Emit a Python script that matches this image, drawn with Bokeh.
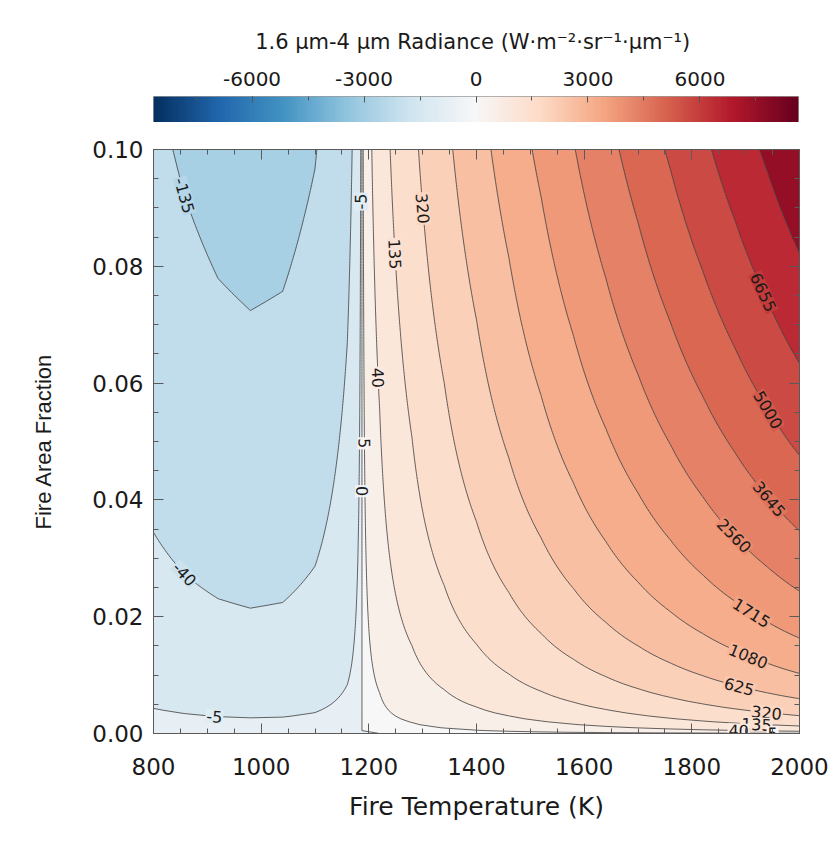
import numpy as np
from bokeh.plotting import figure
from bokeh.layouts import column
from bokeh.models import (ColumnDataSource, LinearAxis, SingleIntervalTicker,
                          NumeralTickFormatter, Range1d, LinearColorMapper)
from bokeh.core.properties import value
from bokeh.embed import file_html
from bokeh.resources import INLINE

# Fire temperature nodes (K)
fire_temperature = [800, 860, 920, 980, 1040, 1100, 1160, 1220, 1280, 1340, 1400,
                    1460, 1520, 1580, 1640, 1700, 1760, 1820, 1880, 1940, 2000]
# 1.6 um minus 4 um radiance of a pixel fully covered by fire (W m-2 sr-1 um-1)
radiance_diff_full = [-1162, -1476, -1733, -1864, -1783, -1396, -598, 718, 2658,
                      5327, 8824, 13241, 18663, 25161, 32803, 41640, 51718, 63070,
                      75730, 89709, 105018]
# Fire area fraction range
fraction_range = [0.0, 0.1]
# Contour levels
contour_levels = [-8640, -6655, -5000, -3645, -2560, -1715, -1080, -625, -320, -135,
                  -40, -5, 0, 5, 40, 135, 320, 625, 1080, 1715, 2560, 3645, 5000,
                  6655, 8640]
colorbar_range = [-8640, 8640]
colorbar_ticks = [-6000, -3000, 0, 3000, 6000]
x_ticks = [800, 1000, 1200, 1400, 1600, 1800, 2000]
y_ticks = [0.00, 0.02, 0.04, 0.06, 0.08, 0.10]

# Position in the RdBu colour ramp used for the band above each contour level
band_tone = [0.000, 0.042, 0.083, 0.125, 0.167, 0.208, 0.250, 0.292, 0.333, 0.375,
             0.417, 0.458, 0.500, 0.530, 0.560, 0.590, 0.620, 0.652, 0.685, 0.718,
             0.752, 0.790, 0.830, 0.875, 0.940]

FONT_H = "DejaVu Sans"        # horizontal texts
FONT_V = "Liberation Sans"    # vertical axis title
AXIS_COLOR = "#5a5a5a"
TEXT_COLOR = "#1a1a1a"
FRAME_W, FRAME_H = 646, 584

# RdBu (reversed: blue = negative, red = positive)
RDBU = ["#053061", "#2166ac", "#4393c3", "#92c5de", "#d1e5f0", "#f7f7f7",
        "#fddbc7", "#f4a582", "#d6604d", "#b2182b", "#67001f"]


def hex_to_rgb(h):
    return np.array([int(h[i:i + 2], 16) for i in (1, 3, 5)], float)


RDBU_RGB = np.array([hex_to_rgb(c) for c in RDBU])


def ramp_rgb(t):
    t = float(np.clip(t, 0, 1)) * (len(RDBU) - 1)
    i = min(int(np.floor(t)), len(RDBU) - 2)
    w = t - i
    return RDBU_RGB[i] * (1 - w) + RDBU_RGB[i + 1] * w


def to_hex(rgb):
    return "#%02x%02x%02x" % tuple(int(round(v)) for v in rgb)


def cmap(t):
    return to_hex(ramp_rgb(t))


# ---- field: radiance difference = fire fraction x full-pixel difference
T = np.array(fire_temperature, float)
G = np.array(radiance_diff_full, float)
frac = np.linspace(fraction_range[0], fraction_range[1], 201)
Z = np.outer(frac, G)

fill_levels = contour_levels + [1.0e6]           # close the band above the top level
fill_colors = [cmap(t) for t in band_tone]

# ---- main contour plot
p = figure(frame_width=FRAME_W, frame_height=FRAME_H,
           x_range=Range1d(800, 2000), y_range=Range1d(0, 0.1),
           toolbar_location=None, output_backend="svg",
           min_border_left=152, min_border_right=42,
           min_border_top=27, min_border_bottom=96)
p.grid.visible = False
p.outline_line_color = AXIS_COLOR
p.background_fill_color = "white"

p.contour(x=T, y=frac, z=Z, levels=fill_levels, fill_color=fill_colors,
          line_color="#303030", line_width=1.0, line_alpha=0.75)


def style_axis(ax, show_labels=True):
    ax.axis_line_color = AXIS_COLOR
    ax.major_tick_line_color = AXIS_COLOR
    ax.minor_tick_line_color = AXIS_COLOR
    ax.major_tick_in, ax.major_tick_out = 10, 0
    ax.minor_tick_in, ax.minor_tick_out = 5, 0
    ax.major_label_text_font = FONT_H
    ax.major_label_text_color = TEXT_COLOR
    ax.axis_label_text_font = FONT_H
    ax.axis_label_text_font_style = "normal"
    ax.axis_label_text_color = TEXT_COLOR
    if not show_labels:
        ax.major_label_text_font_size = "1px"
        ax.major_label_text_color = None
        ax.major_label_standoff = 0


xa = p.xaxis[0]
xa.ticker = SingleIntervalTicker(interval=200, num_minor_ticks=4)
style_axis(xa)
xa.major_label_text_font_size = "23px"
xa.major_label_standoff = 24
xa.axis_label = "Fire Temperature (K)"
xa.axis_label_text_font_size = "25px"
xa.axis_label_standoff = 14

ya = p.yaxis[0]
ya.ticker = SingleIntervalTicker(interval=0.02, num_minor_ticks=4)
ya.formatter = NumeralTickFormatter(format="0.00")
style_axis(ya)
ya.major_label_text_font_size = "23px"
ya.major_label_standoff = 10
ya.axis_label = "Fire Area Fraction"
ya.axis_label_text_font = FONT_V
ya.axis_label_text_font_size = "22px"
ya.axis_label_standoff = 33

top_ax = LinearAxis(ticker=SingleIntervalTicker(interval=200, num_minor_ticks=4))
style_axis(top_ax, show_labels=False)
p.add_layout(top_ax, "above")
right_ax = LinearAxis(ticker=SingleIntervalTicker(interval=0.02, num_minor_ticks=4))
style_axis(right_ax, show_labels=False)
p.add_layout(right_ax, "right")

# ---- contour labels, placed on the contours of the field
sx = FRAME_W / 1200.0
sy = FRAME_H / 0.1


def g_at(t):
    return float(np.interp(t, T, G))


def dg_at(t):
    i = int(np.clip(np.searchsorted(T, t) - 1, 0, len(T) - 2))
    return (G[i + 1] - G[i]) / (T[i + 1] - T[i])


def label_angle(t, f):
    a = np.arctan2(-sy * f * dg_at(t), sx * g_at(t))
    if a > np.pi / 2 + 1e-3:
        a -= np.pi
    elif a < -np.pi / 2 - 1e-3:
        a += np.pi
    return a


# (level, anchor kind, anchor value): "T" fixes temperature, "f" fixes fraction
label_specs = [
    (-135, "T", 858), (-40, "T", 858), (-5, "T", 913),
    (-5, "f", 0.0911), (320, "f", 0.0899), (135, "f", 0.0821),
    (40, "f", 0.0609), (5, "f", 0.0497), (0, "f", 0.0415),
    (6655, "T", 1933), (5000, "T", 1942), (3645, "T", 1944), (2560, "T", 1879),
    (1715, "T", 1911), (1080, "T", 1905), (625, "T", 1888), (320, "T", 1939),
    (135, "T", 1920), (40, "T", 1887), (5, "T", 1950),
]

lx, ly, lt, la, lbg = [], [], [], [], []
rising = slice(3, None)          # g(T) increases from 980 K upward
for lev, kind, v in label_specs:
    if kind == "T":
        t = v
        f = lev / g_at(t)
    else:
        f = v
        t = float(np.interp(lev / f, G[rising], T[rising]))
    k = contour_levels.index(lev)
    bg = 0.5 * (ramp_rgb(band_tone[k]) + ramp_rgb(band_tone[k - 1]))
    lx.append(t)
    ly.append(f)
    lt.append(str(lev))
    la.append(label_angle(t, f))
    lbg.append(to_hex(bg))

lsrc = ColumnDataSource(dict(x=lx, y=ly, text=lt, angle=la, bg=lbg))
p.text(x="x", y="y", text="text", angle="angle", source=lsrc,
       text_font=value(FONT_H), text_font_size="16px", text_color=TEXT_COLOR,
       text_align="center", text_baseline="middle",
       background_fill_color="bg", padding=1)

# ---- colour bar on top
cb = figure(frame_width=FRAME_W - 1, frame_height=26,
            x_range=Range1d(*colorbar_range), y_range=Range1d(0, 1),
            x_axis_location="above", y_axis_location=None,
            toolbar_location=None, output_backend="svg",
            min_border_left=153, min_border_right=42,
            min_border_top=96, min_border_bottom=0)
cb.grid.visible = False
cb.outline_line_color = "#9a9a9a"
grad = np.linspace(colorbar_range[0], colorbar_range[1], 600).reshape(1, -1)
mapper = LinearColorMapper(palette=[cmap(i / 255) for i in range(256)],
                           low=colorbar_range[0], high=colorbar_range[1])
cb.image(image=[grad], x=colorbar_range[0], y=0,
         dw=colorbar_range[1] - colorbar_range[0], dh=1, color_mapper=mapper)

ca = cb.xaxis[0]
ca.ticker = SingleIntervalTicker(interval=3000, num_minor_ticks=2)
ca.formatter = NumeralTickFormatter(format="0")
ca.axis_line_color = None
ca.major_tick_line_color = "#555555"
ca.minor_tick_line_color = "#555555"
ca.major_tick_in, ca.major_tick_out = 6, 0
ca.minor_tick_in, ca.minor_tick_out = 4, 0
ca.major_label_text_font = FONT_H
ca.major_label_text_font_size = "20px"
ca.major_label_text_color = TEXT_COLOR
ca.major_label_standoff = 11
ca.axis_label = ("1.6 \u00b5m-4 \u00b5m Radiance  "
                 "(W\u00b7m\u207b\u00b2\u00b7sr\u207b\u00b9\u00b7\u00b5m\u207b\u00b9)")
ca.axis_label_text_font = FONT_H
ca.axis_label_text_font_style = "normal"
ca.axis_label_text_font_size = "21px"
ca.axis_label_text_color = TEXT_COLOR
ca.axis_label_standoff = 15

layout = column(cb, p, spacing=0)
open("out.html", "w").write(file_html(layout, INLINE))
